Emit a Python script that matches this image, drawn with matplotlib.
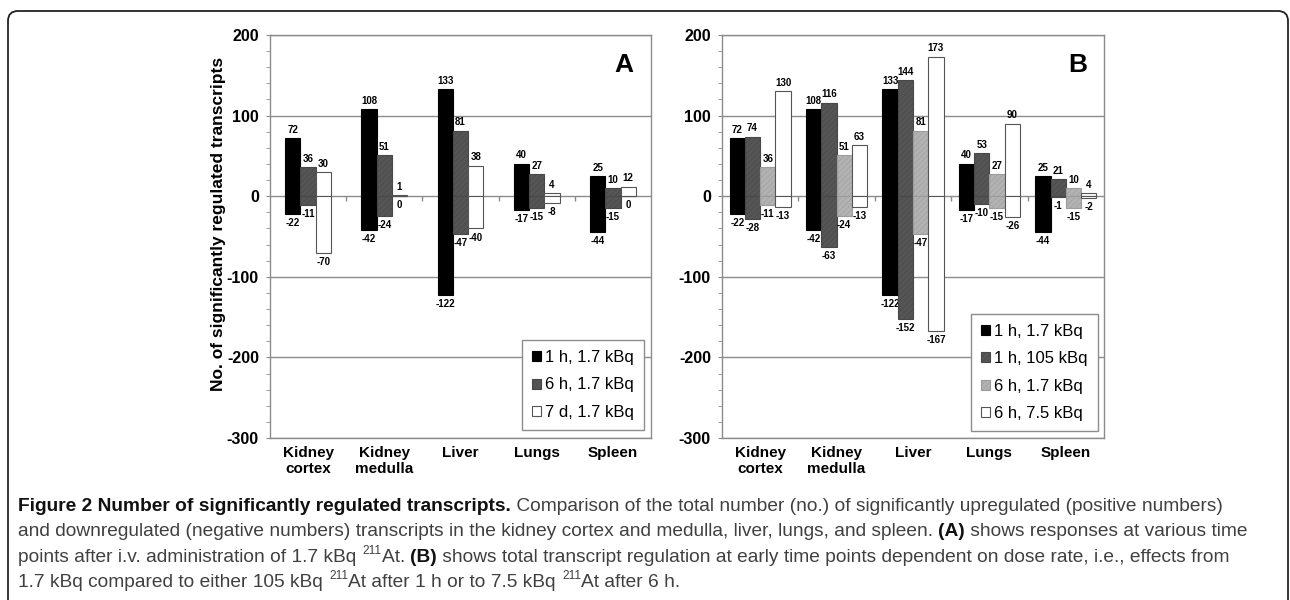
import numpy as np
import matplotlib
matplotlib.use('Agg')
import matplotlib.pyplot as plt
from matplotlib.patches import FancyBboxPatch
from matplotlib.transforms import IdentityTransform

plt.rcParams['font.family'] = ['Liberation Sans', 'DejaVu Sans']
plt.rcParams['hatch.linewidth'] = 0.4
plt.rcParams['axes.unicode_minus'] = False

organs = ['Kidney\ncortex', 'Kidney\nmedulla', 'Liver', 'Lungs', 'Spleen']

# panel A: 1.7 kBq at different times
a_names = ['1 h, 1.7 kBq', '6 h, 1.7 kBq', '7 d, 1.7 kBq']
a_up = [[72, 108, 133, 40, 25],
        [36, 51, 81, 27, 10],
        [30, 1, 38, 4, 12]]
a_down = [[-22, -42, -122, -17, -44],
          [-11, -24, -47, -15, -15],
          [-70, 0, -40, -8, 0]]

# panel B: early times, different dose rates
b_names = ['1 h, 1.7 kBq', '1 h, 105 kBq', '6 h, 1.7 kBq', '6 h, 7.5 kBq']
b_up = [[72, 108, 133, 40, 25],
        [74, 116, 144, 53, 21],
        [36, 51, 81, 27, 10],
        [130, 63, 173, 90, 4]]
b_down = [[-22, -42, -122, -17, -44],
          [-28, -63, -152, -10, -1],
          [-11, -24, -47, -15, -15],
          [-13, -13, -167, -26, -2]]

black = dict(color='black', edgecolor='black')
dark = dict(color='#555555', edgecolor='#484848', hatch='//////')
light = dict(color='#b2b2b2', edgecolor='#9c9c9c', hatch='//////')
white = dict(color='white', edgecolor='#555555')

grid_c = '#8c8c8c'

fig = plt.figure(figsize=(12.9, 6.0), dpi=100)
axA = fig.add_axes([270/1290, 1-438/600, 381/1290, 403/600])
axB = fig.add_axes([722/1290, 1-438/600, 382/1290, 403/600])


def panel(ax, names, ups, downs, styles, letter, leg_x, leg_y):
    x = np.arange(len(organs))
    n = len(names)
    w = 0.2
    handles = []
    for i in range(n):
        off = (i - (n - 1) / 2) * w
        h = ax.bar(x + off, ups[i], w, label=names[i], lw=0.8, zorder=3, **styles[i])
        ax.bar(x + off, downs[i], w, lw=0.8, zorder=3, **styles[i])
        handles.append(h)
        for xi, u, d in zip(x + off, ups[i], downs[i]):
            ax.annotate(str(u), (xi, u), xytext=(0, 2.5), textcoords='offset points',
                        ha='center', va='bottom', fontsize=7, fontweight='bold')
            ax.annotate(str(d), (xi, d), xytext=(0, -3), textcoords='offset points',
                        ha='center', va='top', fontsize=7, fontweight='bold')
    ax.set_xlim(-0.5, len(organs) - 0.5)
    ax.set_ylim(-300, 200)
    ax.set_yticks(np.arange(-300, 201, 100))
    ax.set_yticks(np.arange(-300, 201, 20), minor=True)
    ax.yaxis.grid(True, color=grid_c, lw=1)
    ax.set_axisbelow(True)
    # small ticks on the zero line between organ groups
    ax.vlines(x[1:] - 0.5, -6, 0, color=grid_c, lw=1, zorder=2)
    ax.set_xticks(x)
    ax.set_xticklabels(organs, fontsize=11, fontweight='bold', linespacing=1.15)
    ax.tick_params(axis='x', length=0, pad=6)
    ax.tick_params(axis='y', which='both', direction='out', length=3, color=grid_c,
                   labelsize=11.5, pad=5)
    for lab in ax.get_yticklabels():
        lab.set_fontweight('bold')
    for sp in ax.spines.values():
        sp.set_color(grid_c)
        sp.set_linewidth(1)
    ax.text(0.93, 0.925, letter, transform=ax.transAxes, ha='center', va='center',
            fontsize=19, fontweight='bold')
    leg = ax.legend(handles=handles, loc='lower right', bbox_to_anchor=(leg_x, leg_y),
                    borderaxespad=0, fancybox=False, framealpha=1, edgecolor=grid_c,
                    fontsize=12, handlelength=0.55, handleheight=0.55,
                    handletextpad=0.25, labelspacing=0.75, borderpad=0.6)
    leg.get_frame().set_linewidth(1)
    leg.set_zorder(5)


panel(axA, a_names, a_up, a_down, [black, dark, white], 'A', 0.982, 0.02)
panel(axB, b_names, b_up, b_down, [black, dark, light, white], 'B', 0.984, 0.017)

axA.set_ylabel('No. of significantly regulated transcripts', fontsize=12.5,
               fontweight='bold')
axA.yaxis.set_label_coords(-0.115, 0.53)

# rounded frame around the whole figure
frame = FancyBboxPatch((8, -30), 1280, 619, boxstyle='round,pad=0,rounding_size=10',
                       transform=IdentityTransform(), fill=False, ec='#222222', lw=1.3)
fig.add_artist(frame)

# caption, laid out run by run
cap_font = ['Liberation Sans', 'DejaVu Sans']
lines = [
    [('Figure 2 Number of significantly regulated transcripts.', 'b'),
     (' Comparison of the total number (no.) of significantly upregulated (positive numbers)', 'n')],
    [('and downregulated (negative numbers) transcripts in the kidney cortex and medulla, liver, lungs, and spleen. ', 'n'),
     ('(A)', 'b'), (' shows responses at various time', 'n')],
    [('points after i.v. administration of 1.7 kBq ', 'n'), ('211', 's'), ('At. ', 'n'),
     ('(B)', 'b'),
     (' shows total transcript regulation at early time points dependent on dose rate, i.e., effects from', 'n')],
    [('1.7 kBq compared to either 105 kBq ', 'n'), ('211', 's'), ('At after 1 h or to 7.5 kBq ', 'n'),
     ('211', 's'), ('At after 6 h.', 'n')],
]

renderer = fig.canvas.get_renderer()


def draw_line(y, runs, size, x0=18):
    x = x0
    texts = []
    for s, kind in runs:
        if kind == 's':
            t = fig.text(x + 1, y + size * 0.55, s, transform=IdentityTransform(),
                         fontsize=size * 0.62, family=cap_font, color='#404040',
                         va='baseline')
        else:
            t = fig.text(x, y, s, transform=IdentityTransform(), fontsize=size,
                         family=cap_font, va='baseline',
                         fontweight='bold' if kind == 'b' else 'normal',
                         color='#111111' if kind == 'b' else '#404040')
        x = t.get_window_extent(renderer).x1
        texts.append(t)
    return x, texts


# fit caption size so the widest line ends at the right margin
widest = 0
for runs in lines:
    end, tmp = draw_line(300, runs, 12)
    widest = max(widest, end - 18)
    for t in tmp:
        t.remove()
size = 12 * (1253 - 18) / widest

for k, runs in enumerate(lines):
    draw_line(600 - 511 - 25.3 * k, runs, size)

fig.savefig('out.png', dpi=100)
